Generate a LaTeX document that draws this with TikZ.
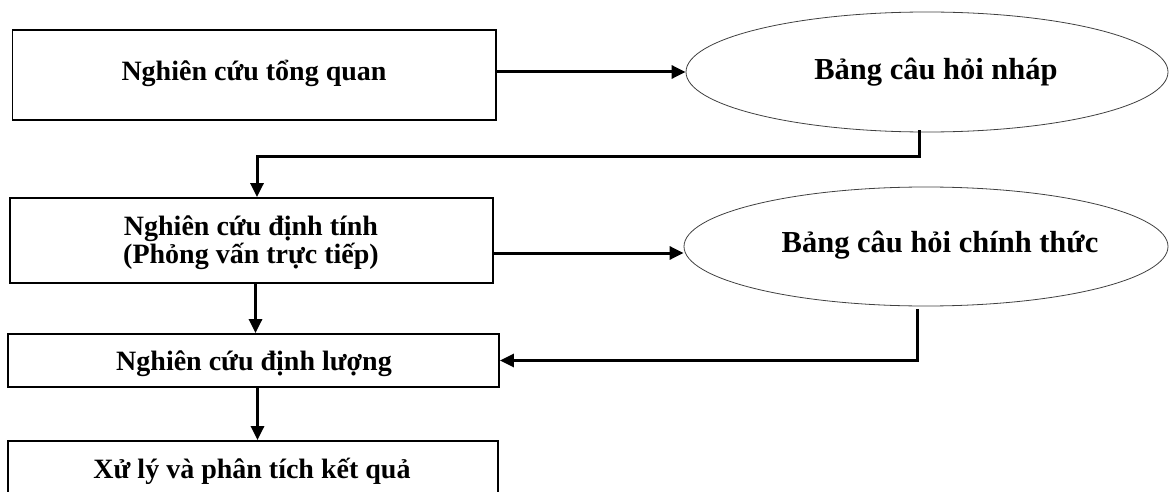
\documentclass[tikz,border=0pt]{standalone}
\usepackage{fontspec}
\setmainfont{Liberation Serif}
\usetikzlibrary{shapes.geometric,arrows.meta}
\tikzset{
  box/.style={draw=black, line width=1.8pt, rectangle, inner sep=0pt},
  oval/.style={draw=black!75, line width=0.8pt, ellipse, inner sep=0pt},
  boxtext/.style={font=\bfseries\fontsize{28}{28}\selectfont, inner sep=0pt, anchor=base},
  ovaltext/.style={font=\bfseries\fontsize{30.5}{30}\selectfont, inner sep=0pt, anchor=base},
  conn/.style={line width=3pt, -{Triangle[length=14pt,width=13pt]}}
}
\begin{document}
\begin{tikzpicture}[x=1pt,y=-1pt]
\useasboundingbox (0,0) rectangle (1170,492);
% boxes
\node[box, minimum width=483.5pt, minimum height=90pt] (b1) at (254.25,75) {};
\node[boxtext] (t1) at (254,81) {Nghiên cứu tổng quan};
\node[box, minimum width=483pt, minimum height=85pt] (b2) at (251.5,240.5) {};
\node[boxtext] (t2a) at (251,235) {Nghiên cứu định tính};
\node[boxtext] (t2b) at (251,263) {(Phỏng vấn trực tiếp)};
\node[box, minimum width=491pt, minimum height=53pt] (b3) at (253.5,360.5) {};
\node[boxtext] (t3) at (254,370) {Nghiên cứu định lượng};
\node[box, minimum width=490pt, minimum height=80pt] (b4) at (253,481) {};
\node[boxtext] (t4) at (252,478) {Xử lý và phân tích kết quả};
% ellipses
\node[oval, minimum width=482pt, minimum height=120pt] (e1) at (927,72) {};
\node[ovaltext] (et1) at (936,80) {Bảng câu hỏi nháp};
\node[oval, minimum width=484pt, minimum height=119pt] (e2) at (926,246.5) {};
\node[ovaltext] (et2) at (940,252.5) {Bảng câu hỏi chính thức};
% connectors
\draw[conn] (b1.east |- e1.west) -- (e1.west);
\coordinate (k1) at ([xshift=-8pt,yshift=-24pt]e1.south);
\draw[conn] ([xshift=-8pt,yshift=2pt]e1.south) -- (k1) -| ([xshift=5.5pt]b2.north);
\draw[conn] ([yshift=-12.5pt]b2.east) -- ([yshift=-12.5pt]b2.east -| e2.west);
\draw[conn] ([xshift=4pt]b2.south) -- ([xshift=4pt]b2.south |- b3.north);
\draw[conn] ([xshift=-9pt,yshift=-3pt]e2.south) -- ([xshift=-9pt]e2.south |- b3.east) -- (b3.east);
\draw[conn] ([xshift=4pt]b3.south) -- ([xshift=4pt]b3.south |- b4.north);
\end{tikzpicture}
\end{document}
